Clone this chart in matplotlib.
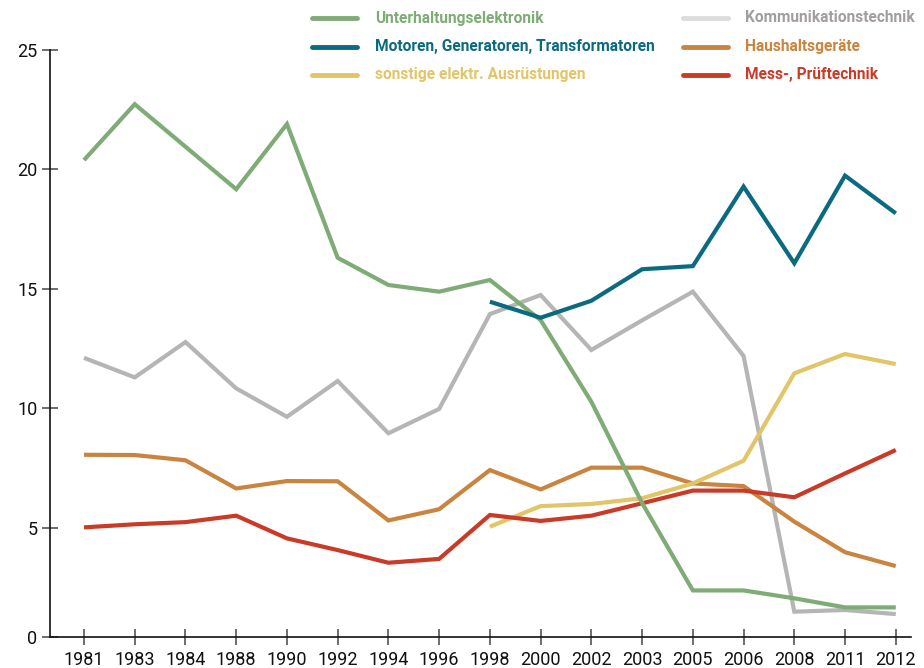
import matplotlib
matplotlib.use("Agg")
import matplotlib.pyplot as plt
from matplotlib.lines import Line2D
import numpy as np

plt.rcParams['font.family'] = ['Roboto', 'DejaVu Sans']

years = ["1981", "1983", "1984", "1988", "1990", "1992", "1994", "1996", "1998",
         "2000", "2002", "2003", "2005", "2006", "2008", "2011", "2012"]

unterhaltung = [20.39, 22.73, 20.95, 19.17, 21.90, 16.30, 15.16, 14.88, 15.37,
                13.69, 10.27, 6.03, 2.37, 2.37, 2.04, 1.66, 1.66]
kommunikation = [12.11, 11.29, 12.77, 10.83, 9.64, 11.14, 8.95, 9.97, 13.94,
                 14.74, 12.44, 13.68, 14.88, 12.19, 1.48, 1.55, 1.38]
motoren = [None] * 8 + [14.46, 13.79, 14.50, 15.82, 15.95, 19.28, 16.07, 19.74, 18.16]
haushalt = [8.05, 8.04, 7.82, 6.64, 6.95, 6.94, 5.30, 5.77, 7.41,
            6.60, 7.51, 7.51, 6.85, 6.74, 5.25, 3.97, 3.39]
sonstige = [None] * 8 + [5.04, 5.90, 5.99, 6.23, 6.85, 7.80, 11.46, 12.27, 11.85]
mess = [5.01, 5.14, 5.23, 5.50, 4.55, 4.06, 3.53, 3.69, 5.53,
        5.28, 5.50, 6.02, 6.55, 6.55, 6.27, 7.27, 8.25]

series = [
    ("Unterhaltungselektronik", unterhaltung, "#7fab76", "#7fab76", "#7fab76"),
    ("Motoren, Generatoren, Transformatoren", motoren, "#0c6a80", "#0c6a80", "#0c6a80"),
    ("sonstige elektr. Ausrüstungen", sonstige, "#e1c568", "#e1c568", "#e1c568"),
    ("Kommunikationstechnik", kommunikation, "#b5b5b5", "#dcdcdc", "#a39e9e"),
    ("Haushaltsgeräte", haushalt, "#c9853f", "#c9853f", "#c9853f"),
    ("Mess-, Prüftechnik", mess, "#c93b27", "#c93b27", "#c93b27"),
]

W, H = 924, 668
fig = plt.figure(figsize=(W / 100, H / 100), dpi=100)
ax = fig.add_axes([50 / W, (H - 637) / H, (911 - 50) / W, (637 - 50) / H])

x = np.arange(len(years))
draw_order = [3, 4, 2, 5, 0, 1]
for i in draw_order:
    name, vals, col, _, _ = series[i]
    y = np.array([np.nan if v is None else v for v in vals], dtype=float)
    ax.plot(x, y, color=col, lw=3.0, solid_joinstyle='miter', solid_capstyle='butt', zorder=3)

ax.set_xlim(-0.67, 16.3)
ybottom = 0.42
ax.set_ylim(ybottom, 25)
ax.set_xticks(x)
ax.set_xticklabels(years)
ax.set_yticks([ybottom, 5, 10, 15, 20, 25])
ax.set_yticklabels(["0", "5", "10", "15", "20", "25"])

for s in ["top", "right"]:
    ax.spines[s].set_visible(False)
for s in ["left", "bottom"]:
    ax.spines[s].set_color("#111111")
    ax.spines[s].set_linewidth(1.2)

ax.tick_params(axis="both", direction="inout", length=12, width=1.2, color="#555555",
               labelsize=13, labelcolor="#111111")
ax.tick_params(axis="x", pad=4)
ax.tick_params(axis="y", pad=3)

# legend (manual, two columns)
cols_x = [(312, 357, 375), (683, 728, 745)]
rows_y = [18, 47, 75]
for k, (name, vals, col, lcol, tcol) in enumerate(series):
    c = k // 3
    r = k % 3
    x0, x1, xt = cols_x[c]
    yy = 1 - rows_y[r] / H
    fig.add_artist(Line2D([x0 / W, x1 / W], [yy, yy], color=lcol, lw=3.5,
                          solid_capstyle='round', transform=fig.transFigure))
    fig.text(xt / W, yy, name, color=tcol, fontsize=11.2, fontweight='bold',
             va='center', ha='left')

fig.savefig("out.png", dpi=100)
